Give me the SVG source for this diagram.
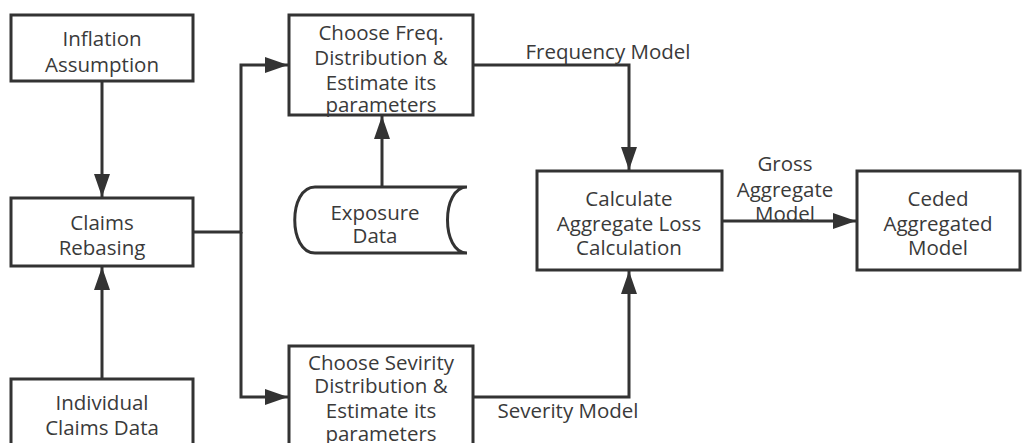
<svg xmlns="http://www.w3.org/2000/svg" width="1031" height="443" viewBox="0 0 1031 443">
<style>
.box{fill:#fff;stroke:#333;stroke-width:3}
.ln{fill:none;stroke:#333;stroke-width:3}
text{font-family:"Open Sans","Noto Sans",sans-serif;font-size:20.5px;fill:#3a3a3a;text-anchor:middle;dominant-baseline:central}
</style>
<defs>
<marker id="ah" markerUnits="userSpaceOnUse" markerWidth="24" markerHeight="16" refX="23" refY="8" orient="auto">
<path d="M0,0 L23,8 L0,16 Z" fill="#333"/>
</marker>
</defs>
<rect width="1031" height="443" fill="#fff"/>
<g id="connectors">
<path class="ln" d="M102,81 V197" marker-end="url(#ah)"/>
<path class="ln" d="M102,379 V267" marker-end="url(#ah)"/>
<path class="ln" d="M193,232 H241 V65 H288" marker-end="url(#ah)"/>
<path class="ln" d="M241,232 V397 H288" marker-end="url(#ah)"/>
<path class="ln" d="M382,187 V116" marker-end="url(#ah)"/>
<path class="ln" d="M473,65 H629 V170" marker-end="url(#ah)"/>
<path class="ln" d="M473,397 H629 V271" marker-end="url(#ah)"/>
<path class="ln" d="M722,221 H856" marker-end="url(#ah)"/>
<text x="608" y="51">Frequency Model</text>
<text x="568" y="410">Severity Model</text>
<text x="785" y="163">Gross</text>
<text x="785" y="189">Aggregate</text>
<text x="785" y="213">Model</text>
</g>
<g id="inflation">
<rect class="box" x="11" y="15" width="182" height="66"/>
<text x="102" y="38">Inflation</text>
<text x="102" y="64">Assumption</text>
</g>
<g id="rebasing">
<rect class="box" x="11" y="198" width="182" height="68"/>
<text x="102" y="222">Claims</text>
<text x="102" y="247">Rebasing</text>
</g>
<g id="individual">
<rect class="box" x="11" y="379" width="182" height="80"/>
<text x="102" y="402">Individual</text>
<text x="102" y="427">Claims Data</text>
</g>
<g id="freq">
<rect class="box" x="289" y="15" width="184" height="100"/>
<text x="381" y="32">Choose Freq.</text>
<text x="381" y="57">Distribution &amp;</text>
<text x="381" y="82">Estimate its</text>
<text x="381" y="104">parameters</text>
</g>
<g id="exposure">
<path class="box" d="M467,187 H315 C288,187 288,253 315,253 H467 C441,253 441,187 467,187 Z"/>
<text x="375" y="212">Exposure</text>
<text x="375" y="235">Data</text>
</g>
<g id="severity">
<rect class="box" x="289" y="346" width="184" height="110"/>
<text x="381" y="362">Choose Sevirity</text>
<text x="381" y="385">Distribution &amp;</text>
<text x="381" y="410">Estimate its</text>
<text x="381" y="433">parameters</text>
</g>
<g id="calculate">
<rect class="box" x="537" y="171" width="185" height="99"/>
<text x="629" y="198">Calculate</text>
<text x="629" y="223">Aggregate Loss</text>
<text x="629" y="247">Calculation</text>
</g>
<g id="ceded">
<rect class="box" x="857" y="171" width="163" height="99"/>
<text x="938" y="198">Ceded</text>
<text x="938" y="223">Aggregated</text>
<text x="938" y="247">Model</text>
</g>
</svg>
